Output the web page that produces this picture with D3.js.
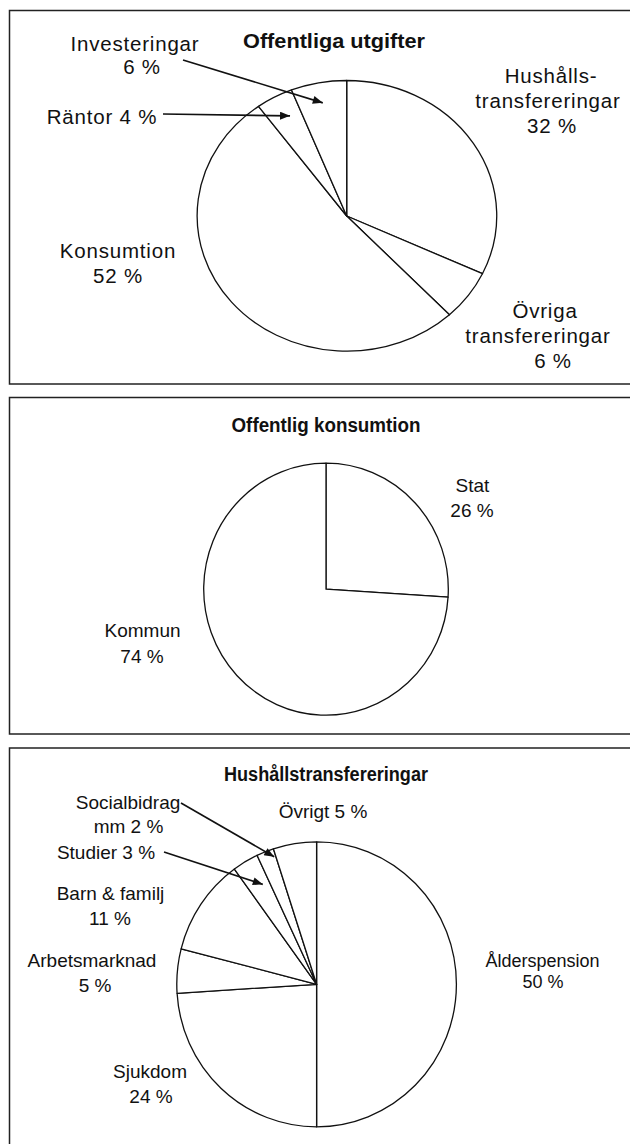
<!DOCTYPE html>
<html>
<head>
<meta charset="utf-8">
<script src="https://cdn.jsdelivr.net/npm/d3@7"></script>
<style>
  body { margin: 0; background: #fff; }
  svg { display: block; }
</style>
</head>
<body>
<script>
const w = 630;
const h = 1144;

// Offentliga utgifter
const utgifterNames = ["Hushållstransfereringar", "Övriga transfereringar", "Konsumtion", "Räntor", "Investeringar"];
const utgifterValues = [32, 6, 52, 4, 6];
const utgifterLabels = [
  ["Hushålls-", "transfereringar", "{p}"],
  ["Övriga", "transfereringar", "{p}"],
  ["Konsumtion", "{p}"],
  ["Räntor {p}"],
  ["Investeringar", "{p}"]
];

// Offentlig konsumtion
const konsumtionNames = ["Stat", "Kommun"];
const konsumtionValues = [26, 74];
const konsumtionLabels = [["Stat", "{p}"], ["Kommun", "{p}"]];

// Hushållstransfereringar
const hushallNames = ["Ålderspension", "Sjukdom", "Arbetsmarknad", "Barn & familj", "Studier", "Socialbidrag mm", "Övrigt"];
const hushallValues = [50, 24, 5, 11, 3, 2, 5];
const hushallLabels = [
  ["Ålderspension", "{p}"],
  ["Sjukdom", "{p}"],
  ["Arbetsmarknad", "{p}"],
  ["Barn & familj", "{p}"],
  ["Studier {p}"],
  ["Socialbidrag", "mm {p}"],
  ["Övrigt {p}"]
];

// layout of each panel (positions only)
const charts = [
  {
    title: "Offentliga utgifter", names: utgifterNames, values: utgifterValues, labels: utgifterLabels,
    boxY: 10.5, boxH: 373.5,
    cx: 346.7, cy: 216, rx: 150, ry: 135.5,
    titleX: 334, titleY: 48, titleSize: 20.5, titleLen: 182,
    fontSize: 20.5, spacing: 0.8,
    pos: [
      [[551, 83], [548, 108], [552, 133]],
      [[545, 318], [538, 343], [553, 368]],
      [[118, 258], [118, 283]],
      [[102, 124]],
      [[135, 51], [142, 74]]
    ],
    arrows: [null, null, null, { from: [163, 114], t: 0.62, r: 0.83 }, { from: [183, 60], t: 0.5, r: 0.85 }]
  },
  {
    title: "Offentlig konsumtion", names: konsumtionNames, values: konsumtionValues, labels: konsumtionLabels,
    boxY: 397.5, boxH: 336.5,
    cx: 326, cy: 589.2, rx: 122.3, ry: 126,
    titleX: 326, titleY: 431.5, titleSize: 20, titleLen: 189,
    fontSize: 19, spacing: 0,
    pos: [
      [[472.5, 491.5], [472, 517.3]],
      [[142.5, 636.7], [142, 662.7]]
    ],
    arrows: [null, null]
  },
  {
    title: "Hushållstransfereringar", names: hushallNames, values: hushallValues, labels: hushallLabels,
    boxY: 748, boxH: 500,
    cx: 316.6, cy: 984.3, rx: 139.8, ry: 142.5,
    titleX: 326, titleY: 781, titleSize: 20, titleLen: 204,
    fontSize: 19, spacing: 0,
    sizes: [18, 19, 19, 19, 19, 19, 19],
    pos: [
      [[542.5, 966.7], [543, 988.3]],
      [[150, 1078.3], [151, 1103]],
      [[92, 967], [95, 991.7]],
      [[110.5, 900], [110, 925]],
      [[106, 859.3]],
      [[128, 809.3], [128.5, 833.3]],
      [[323, 818]]
    ],
    arrows: [null, null, null, null, { from: [164, 852], t: 0.67, r: 0.8 }, { from: [181, 803], t: 0.9, r: 0.945 }, null]
  }
];

const svg = d3
  .select("body")
  .append("svg")
  .attr("width", w)
  .attr("height", h);

svg
  .append("defs")
  .append("marker")
  .attr("id", "head")
  .attr("markerUnits", "userSpaceOnUse")
  .attr("viewBox", "0 0 10 8")
  .attr("refX", 10)
  .attr("refY", 4)
  .attr("markerWidth", 11)
  .attr("markerHeight", 8)
  .attr("orient", "auto")
  .append("path")
  .attr("d", "M0,0L10,4L0,8Z")
  .attr("fill", "#111");

const pie = d3.pie().sort(null).value(d => d);
const arc = d3.arc().innerRadius(0).outerRadius(1);

charts.forEach(c => {
  // frame, open on the right side
  svg
    .append("rect")
    .attr("x", 9.5)
    .attr("y", c.boxY)
    .attr("width", 660)
    .attr("height", c.boxH)
    .attr("fill", "none")
    .attr("stroke", "#222")
    .attr("stroke-width", 1.5);

  svg
    .append("text")
    .attr("x", c.titleX)
    .attr("y", c.titleY)
    .attr("text-anchor", "middle")
    .attr("textLength", c.titleLen)
    .attr("lengthAdjust", "spacingAndGlyphs")
    .style("font-family", "'Liberation Sans', Arial, sans-serif")
    .style("font-weight", "bold")
    .style("font-size", c.titleSize + "px")
    .attr("fill", "#111")
    .text(c.title);

  const arcs = pie(c.values);

  // unit pie stretched to the ellipse
  svg
    .append("g")
    .attr("transform", "translate(" + c.cx + "," + c.cy + ") scale(" + c.rx + "," + c.ry + ")")
    .selectAll("path")
    .data(arcs)
    .enter()
    .append("path")
    .attr("d", arc)
    .attr("fill", "#fff")
    .attr("stroke", "#111")
    .attr("stroke-width", 1.3)
    .attr("stroke-linejoin", "round")
    .attr("vector-effect", "non-scaling-stroke");

  // labels
  arcs.forEach((a, i) => {
    const pct = c.values[i] + " %";
    const size = c.sizes ? c.sizes[i] : c.fontSize;
    c.labels[i].forEach((line, j) => {
      svg
        .append("text")
        .attr("x", c.pos[i][j][0])
        .attr("y", c.pos[i][j][1])
        .attr("text-anchor", "middle")
        .style("font-family", "'Liberation Sans', Arial, sans-serif")
        .style("font-size", size + "px")
        .style("letter-spacing", c.spacing + "px")
        .attr("fill", "#111")
        .text(line.replace("{p}", pct));
    });

    const ar = c.arrows[i];
    if (ar) {
      const ang = a.startAngle + (a.endAngle - a.startAngle) * ar.t;
      const tx = c.cx + Math.sin(ang) * ar.r * c.rx;
      const ty = c.cy - Math.cos(ang) * ar.r * c.ry;
      svg
        .append("line")
        .attr("x1", ar.from[0])
        .attr("y1", ar.from[1])
        .attr("x2", tx)
        .attr("y2", ty)
        .attr("stroke", "#111")
        .attr("stroke-width", 1.6)
        .attr("marker-end", "url(#head)");
    }
  });
});
</script>
</body>
</html>
